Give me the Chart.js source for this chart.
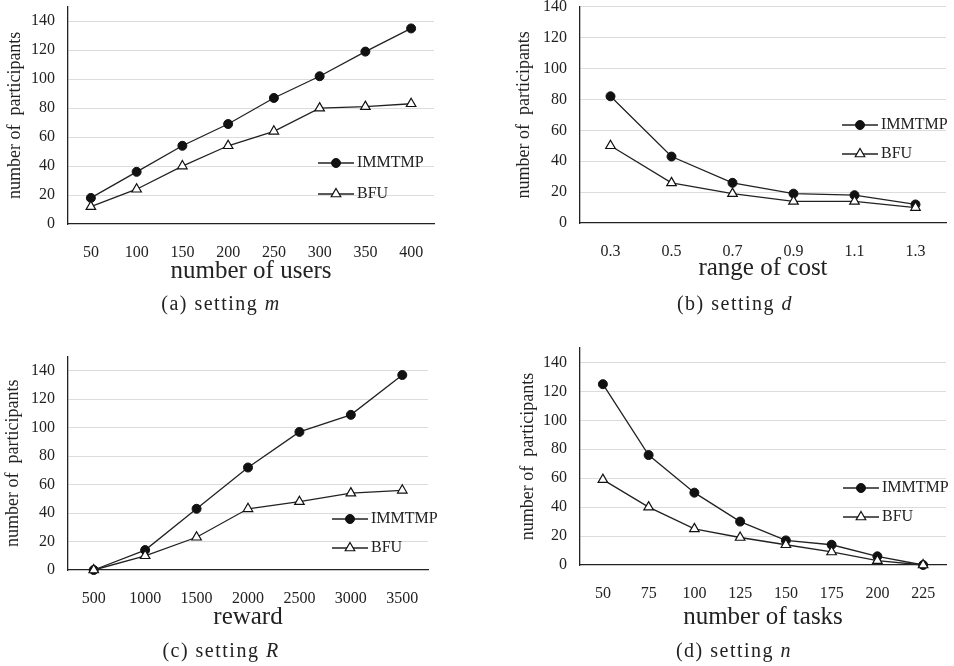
<!DOCTYPE html>
<html>
<head>
<meta charset="utf-8">
<script src="https://cdn.jsdelivr.net/npm/chart.js@4.4.1/dist/chart.umd.min.js"></script>
<style>
body { margin: 0; background: #fff; }
#wrap { position: relative; width: 954px; height: 666px; }
canvas { position: absolute; }
.cap {
    position: absolute;
    font-family: 'Liberation Serif', serif;
    font-size: 20px;
    color: #222;
    letter-spacing: 1.5px;
    white-space: nowrap;
    transform: translate(-50%, -50%);
}
</style>
</head>
<body>
<div id="wrap">
    <canvas id="chart-a" width="477" height="333" style="left:0;top:0"></canvas>
    <canvas id="chart-b" width="477" height="333" style="left:477px;top:0"></canvas>
    <canvas id="chart-c" width="477" height="333" style="left:0;top:333px"></canvas>
    <canvas id="chart-d" width="477" height="333" style="left:477px;top:333px"></canvas>
    <div class="cap" style="left:221px;top:303px">(a) setting <i>m</i></div>
    <div class="cap" style="left:735px;top:303px">(b) setting <i>d</i></div>
    <div class="cap" style="left:221px;top:650px">(c) setting <i>R</i></div>
    <div class="cap" style="left:734px;top:650px">(d) setting <i>n</i></div>
</div>
<script>
// --- Data ---
const usersLabels = ['50', '100', '150', '200', '250', '300', '350', '400'];
const usersImmtmp = [18, 36, 54, 69, 87, 102, 119, 135];
const usersBfu = [12, 24, 40, 54, 64, 80, 81, 83];

const costLabels = ['0.3', '0.5', '0.7', '0.9', '1.1', '1.3'];
const costImmtmp = [82, 43, 26, 19, 18, 12];
const costBfu = [50, 26, 19, 14, 14, 10];

const rewardLabels = ['500', '1000', '1500', '2000', '2500', '3000', '3500'];
const rewardImmtmp = [0, 14, 43, 72, 97, 109, 137];
const rewardBfu = [0, 10, 23, 43, 48, 54, 56];

const tasksLabels = ['50', '75', '100', '125', '150', '175', '200', '225'];
const tasksImmtmp = [125, 76, 50, 30, 17, 14, 6, 0];
const tasksBfu = [59, 40, 25, 19, 14, 9, 3, 0];

// y tick values shared by all four panels
const yTickValues = [0, 20, 40, 60, 80, 100, 120, 140];

const yTitle = 'number of  participants';
const serif = "'Liberation Serif', serif";
const ink = '#222';

// Legend drawn as line + marker, like the original figure
const lineLegend = {
    id: 'lineLegend',
    afterDatasetsDraw(chart, args, opts) {
        const ctx = chart.ctx;
        ctx.save();
        chart.data.datasets.forEach((ds, i) => {
            const y = opts.y + i * opts.gap;
            ctx.strokeStyle = ds.borderColor;
            ctx.lineWidth = ds.borderWidth;
            ctx.beginPath();
            ctx.moveTo(opts.x, y);
            ctx.lineTo(opts.x + opts.len, y);
            ctx.stroke();
            ctx.fillStyle = ds.pointBackgroundColor;
            ctx.strokeStyle = ds.pointBorderColor;
            ctx.lineWidth = ds.pointBorderWidth;
            Chart.helpers.drawPoint(ctx, {
                pointStyle: ds.pointStyle,
                radius: ds.pointRadius,
                borderWidth: ds.pointBorderWidth,
                rotation: 0
            }, opts.x + opts.len / 2, y);
            ctx.fillStyle = ink;
            ctx.font = '16px ' + serif;
            ctx.textBaseline = 'middle';
            ctx.textAlign = 'left';
            ctx.fillText(ds.label, opts.x + opts.len + 3, y);
        });
        ctx.restore();
    }
};

function makeChart(id, labels, immtmp, bfu, cfg) {
    const area = cfg.area;
    new Chart(document.getElementById(id), {
        type: 'line',
        data: {
            labels: labels,
            datasets: [{
                label: 'IMMTMP',
                data: immtmp,
                borderColor: ink,
                borderWidth: 1.3,
                pointStyle: 'circle',
                pointRadius: 4.5,
                pointBackgroundColor: '#111',
                pointBorderColor: '#111',
                pointBorderWidth: 1,
                tension: 0,
                clip: false,
                order: 1
            }, {
                label: 'BFU',
                data: bfu,
                borderColor: ink,
                borderWidth: 1.3,
                pointStyle: 'triangle',
                pointRadius: 5.5,
                pointBackgroundColor: '#fff',
                pointBorderColor: '#111',
                pointBorderWidth: 1.2,
                tension: 0,
                clip: false,
                order: 0
            }]
        },
        options: {
            responsive: false,
            animation: false,
            layout: { padding: { left: 0, top: area.top, right: 477 - area.right, bottom: 0 } },
            plugins: {
                legend: { display: false },
                tooltip: { enabled: false },
                lineLegend: cfg.legend
            },
            scales: {
                x: {
                    type: 'category',
                    offset: true,
                    grid: { display: false },
                    border: { display: true, color: ink, width: 1.3 },
                    ticks: { color: ink, font: { family: serif, size: 16 }, padding: 11, maxRotation: 0 },
                    title: {
                        display: true,
                        text: cfg.xTitle,
                        color: ink,
                        font: { family: serif, size: 25 },
                        padding: { top: 0, bottom: cfg.xTitlePad }
                    },
                    afterFit: (scale) => {
                        scale.height = 333 - area.bottom;
                        scale.paddingLeft = 0; scale.paddingRight = 0;
                        scale.paddingTop = 0; scale.paddingBottom = 0;
                    }
                },
                y: {
                    min: 0,
                    max: cfg.yMax,
                    ticks: { color: ink, font: { family: serif, size: 16 }, padding: 13 },
                    afterBuildTicks: (axis) => {
                        axis.ticks = yTickValues.map(v => ({ value: v }));
                    },
                    grid: {
                        drawTicks: false,
                        lineWidth: 1,
                        color: (c) => (c.tick && c.tick.value === 0) ? 'rgba(0,0,0,0)' : '#dcdcdc'
                    },
                    border: { display: true, color: ink, width: 1.3 },
                    title: {
                        display: true,
                        text: yTitle,
                        color: ink,
                        font: { family: serif, size: 18 },
                        padding: { top: cfg.yTitlePad, bottom: 0 }
                    },
                    afterFit: (scale) => {
                        scale.width = area.left;
                        scale.paddingLeft = 0; scale.paddingRight = 0;
                        scale.paddingTop = 0; scale.paddingBottom = 0;
                    }
                }
            }
        },
        plugins: [lineLegend]
    });
}

makeChart('chart-a', usersLabels, usersImmtmp, usersBfu, {
    xTitle: 'number of users', yMax: 150,
    area: { left: 68, top: 6.5, right: 434, bottom: 224 },
    xTitlePad: 47, yTitlePad: 4,
    legend: { x: 318, y: 163, gap: 31, len: 36 }
});

makeChart('chart-b', costLabels, costImmtmp, costBfu, {
    xTitle: 'range of cost', yMax: 140,
    area: { left: 103, top: 6, right: 469, bottom: 223 },
    xTitlePad: 50, yTitlePad: 36,
    legend: { x: 365, y: 125, gap: 29, len: 36 }
});

makeChart('chart-c', rewardLabels, rewardImmtmp, rewardBfu, {
    xTitle: 'reward', yMax: 150,
    area: { left: 68, top: 23.5, right: 428, bottom: 237 },
    xTitlePad: 34, yTitlePad: 2,
    legend: { x: 332, y: 186, gap: 29, len: 36 }
});

makeChart('chart-d', tasksLabels, tasksImmtmp, tasksBfu, {
    xTitle: 'number of tasks', yMax: 150,
    area: { left: 103, top: 15, right: 469, bottom: 232 },
    xTitlePad: 34, yTitlePad: 40,
    legend: { x: 366, y: 155, gap: 29, len: 36 }
});
</script>
</body>
</html>
